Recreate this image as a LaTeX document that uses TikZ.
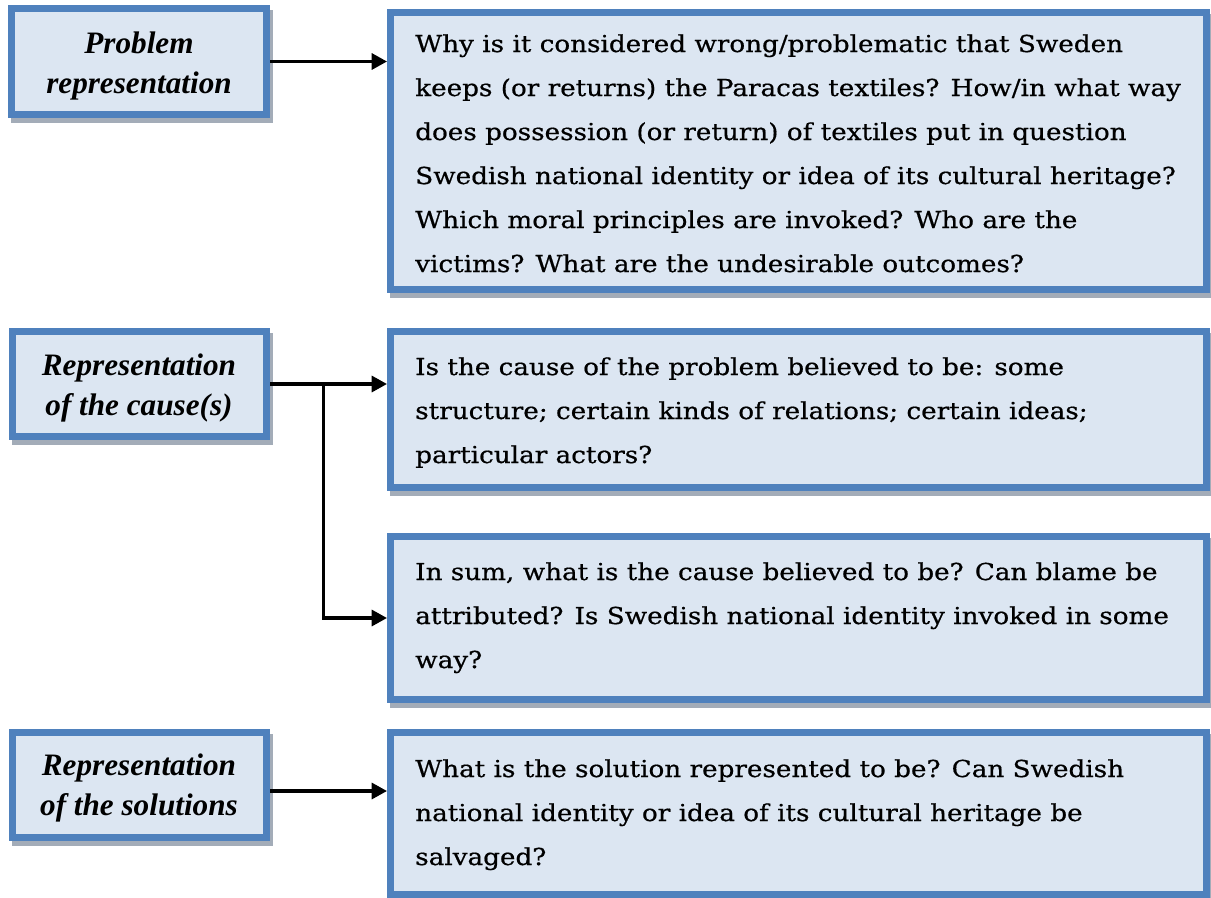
\documentclass[tikz,border=0pt]{standalone}
\usepackage{fontspec}
\setmainfont{DejaVu Serif}[FakeStretch=1.124, FakeBold=0.6]
\newfontfamily\lbfont{Liberation Serif}
\usetikzlibrary{arrows.meta,fit,calc}
\definecolor{boxfill}{HTML}{DCE6F2}
\definecolor{boxline}{HTML}{4F81BD}
\definecolor{shadowc}{HTML}{A3ACB8}
\begin{document}
\begin{tikzpicture}[x=0.75pt,y=-0.75pt,
  boxn/.style={draw=boxline, fill=boxfill, line width=5.25pt, inner sep=0pt,
    preaction={draw=shadowc, fill=shadowc, line width=5.25pt, transform canvas={xshift=2.25pt, yshift=-3.75pt}}},
  ltext/.style={anchor=base, inner sep=0pt, font=\lbfont\bfseries\itshape\fontsize{23.4}{30}\selectfont},
  rtext/.style={anchor=base west, inner sep=0pt, font=\fontsize{17.5}{33}\selectfont},
  arr/.style={line width=2.4pt, -{Triangle[length=11.5pt, width=12pt]}}
]
\useasboundingbox (0,0) rectangle (1211,897);
\node[boxn, fit={(11.5,8.5) (266.5,114.5)}] (L1) {};
\node[boxn, fit={(12.5,331.5) (266.5,436.5)}] (L2) {};
\node[boxn, fit={(12.5,732.5) (266.5,837.5)}] (L3) {};
\node[boxn, fit={(390.5,12.5) (1206.5,289.5)}] (R1) {};
\node[boxn, fit={(390.5,331.5) (1206.5,487.5)}] (R2) {};
\node[boxn, fit={(390.5,536.5) (1206.5,699.5)}] (R3) {};
\node[boxn, fit={(390.5,732.5) (1206.5,894.5)}] (R4) {};

\node[ltext] (tL1) at (139,53) {\parbox[t]{240pt}{\centering Problem\\ representation}};
\node[ltext] (tL2) at (139,375) {\parbox[t]{240pt}{\centering Representation\\ of the cause(s)}};
\node[ltext] (tL3) at (139,775) {\parbox[t]{240pt}{\centering Representation\\ of the solutions}};

\node[rtext] (tR1) at (415,52) {\parbox[t]{620pt}{\raggedright Why is it considered wrong/problematic that Sweden\\
keeps (or returns) the Paracas textiles? How/in what way\\
does possession (or return) of textiles put in question\\
Swedish national identity or idea of its cultural heritage?\\
Which moral principles are invoked? Who are the\\
victims? What are the undesirable outcomes?}};
\node[rtext] (tR2) at (415,375) {\parbox[t]{620pt}{\raggedright Is the cause of the problem believed to be: some\\
structure; certain kinds of relations; certain ideas;\\
particular actors?}};
\node[rtext] (tR3) at (415,580) {\parbox[t]{620pt}{\raggedright In sum, what is the cause believed to be? Can blame be\\
attributed? Is Swedish national identity invoked in some\\
way?}};
\node[rtext] (tR4) at (415,777) {\parbox[t]{620pt}{\raggedright What is the solution represented to be? Can Swedish\\
national identity or idea of its cultural heritage be\\
salvaged?}};

\draw[arr] (L1.east) -- (L1.east -| R1.west);
\draw[arr] (L2.east) -- (L2.east -| R2.west);
\coordinate (br) at ($(L2.east)!0.456!(L2.east -| R2.west)$);
\draw[arr] (br) |- (R3.west);
\draw[arr] ([yshift=-4.5pt]L3.east) -- ([yshift=-4.5pt]L3.east -| R4.west);
\end{tikzpicture}
\end{document}
